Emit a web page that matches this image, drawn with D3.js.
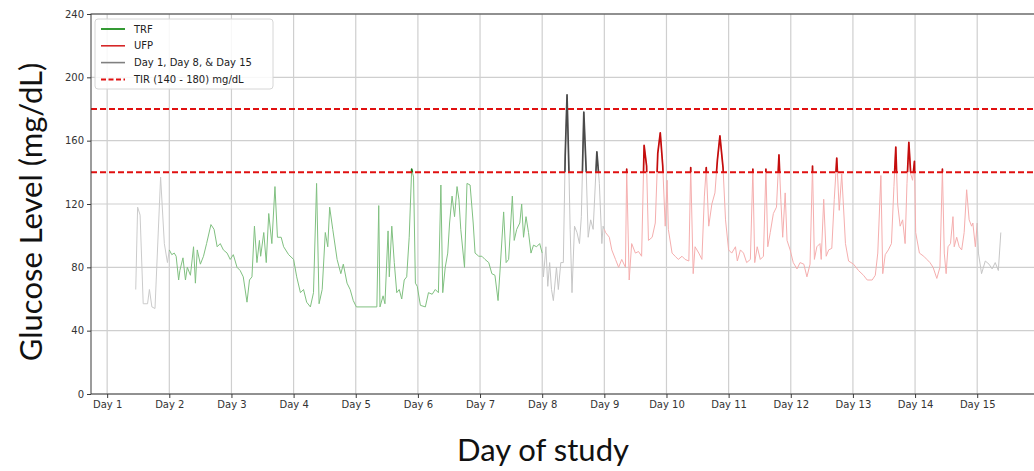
<!DOCTYPE html>
<html>
<head>
<meta charset="utf-8">
<script src="https://cdn.jsdelivr.net/npm/d3@7/dist/d3.min.js"></script>
<style>
	body { margin: 0; background: #fff; }
	svg { display: block; }
</style>
</head>
<body>
<div id="chart-area"></div>
<script>
/*
*    CGM trace - glucose per day of study
*/

// tick values
var dayTicks = [1, 2, 3, 4, 5, 6, 7, 8, 9, 10, 11, 12, 13, 14, 15];
var glucoseTicks = [0, 40, 80, 120, 160, 200, 240];
var tirBounds = [140, 180];

// Day 1 (baseline, grey)
var day1Time = [1.46, 1.49, 1.53, 1.58, 1.65, 1.68, 1.72, 1.77, 1.86, 1.92, 1.97, 2.00];
var day1Glucose = [66, 118, 113, 57, 57, 66, 55, 54, 137, 95, 83, 91];

// TRF (days 2 - 8)
var trfTime = [2.00, 2.04, 2.08, 2.11, 2.15, 2.17, 2.22, 2.26, 2.29, 2.34, 2.39, 2.42, 2.45, 2.50,
	2.55, 2.60, 2.67, 2.72, 2.77, 2.82, 2.87, 2.93, 2.98, 3.03, 3.09, 3.14, 3.19, 3.25, 3.29, 3.33,
	3.37, 3.41, 3.45, 3.47, 3.52, 3.56, 3.60, 3.65, 3.70, 3.74, 3.80, 3.84, 3.92, 4.00, 4.05, 4.11,
	4.16, 4.21, 4.27, 4.32, 4.37, 4.41, 4.46, 4.51, 4.55, 4.58, 4.63, 4.70, 4.76, 4.80, 4.86, 4.91,
	4.96, 5.01, 5.34, 5.37, 5.39, 5.44, 5.47, 5.52, 5.54, 5.58, 5.62, 5.66, 5.70, 5.74, 5.78, 5.82,
	5.86, 5.90, 5.93, 5.96, 5.99, 6.04, 6.12, 6.17, 6.23, 6.28, 6.33, 6.37, 6.40, 6.44, 6.48, 6.51,
	6.55, 6.59, 6.63, 6.66, 6.69, 6.75, 6.79, 6.84, 6.89, 6.92, 6.98, 7.03, 7.08, 7.14, 7.19, 7.24,
	7.29, 7.32, 7.38, 7.42, 7.46, 7.52, 7.55, 7.59, 7.64, 7.67, 7.70, 7.74, 7.78, 7.82, 7.86, 7.91,
	7.96, 8.00];
var trfGlucose = [91, 88, 89, 87, 72, 78, 86, 72, 80, 75, 93, 70, 91, 82,
	87, 95, 107, 104, 93, 95, 91, 89, 85, 88, 80, 78, 74, 58, 72, 74,
	106, 83, 97, 87, 102, 83, 114, 95, 131, 99, 99, 93, 88, 85, 74, 64,
	66, 58, 55, 64, 133, 57, 66, 102, 93, 118, 104, 85, 76, 82, 70, 66,
	59, 55, 55, 119, 55, 62, 57, 103, 74, 106, 83, 64, 66, 60, 72, 74,
	99, 142, 137, 70, 68, 56, 55, 64, 63, 66, 64, 132, 64, 80, 89, 108,
	125, 112, 131, 123, 104, 80, 133, 132, 108, 89, 87, 87, 85, 83, 76, 75,
	59, 77, 115, 83, 85, 125, 97, 104, 108, 120, 99, 112, 102, 89, 94, 93,
	95, 89];

// Day 8 (grey)
var day8Time = [8.00, 8.02, 8.06, 8.09, 8.12, 8.15, 8.18, 8.23, 8.26, 8.30, 8.34, 8.37, 8.40, 8.43,
	8.45, 8.48, 8.52, 8.56, 8.60, 8.63, 8.67, 8.71, 8.74, 8.78, 8.82, 8.88, 8.92, 8.96, 8.98, 9.00];
var day8Glucose = [89, 74, 93, 68, 83, 66, 59, 80, 66, 83, 83, 150, 189, 142,
	104, 64, 106, 102, 95, 112, 178, 139, 99, 110, 104, 153, 133, 95, 106, 104];

// UFP (days 9 - 15)
var ufpTime = [9.00, 9.02, 9.08, 9.12, 9.18, 9.23, 9.28, 9.34, 9.36, 9.40, 9.44, 9.50, 9.55, 9.60,
	9.64, 9.68, 9.71, 9.77, 9.82, 9.86, 9.90, 9.94, 9.98, 10.01, 10.03, 10.09, 10.14, 10.19, 10.25,
	10.30, 10.36, 10.39, 10.43, 10.46, 10.52, 10.57, 10.61, 10.64, 10.68, 10.73, 10.78, 10.82, 10.86,
	10.91, 10.95, 11.00, 11.05, 11.11, 11.14, 11.19, 11.24, 11.29, 11.35, 11.39, 11.42, 11.46, 11.51,
	11.56, 11.60, 11.63, 11.67, 11.72, 11.77, 11.81, 11.84, 11.87, 11.91, 11.94, 11.99, 12.04, 12.10,
	12.15, 12.21, 12.26, 12.31, 12.35, 12.38, 12.42, 12.47, 12.49, 12.53, 12.57, 12.61, 12.66, 12.70,
	12.74, 12.78, 12.82, 12.88, 12.93, 13.01, 13.09, 13.17, 13.23, 13.31, 13.36, 13.40, 13.45, 13.48,
	13.52, 13.57, 13.62, 13.66, 13.69, 13.72, 13.76, 13.80, 13.84, 13.87, 13.90, 13.93, 13.96, 13.99,
	14.01, 14.07, 14.14, 14.19, 14.24, 14.29, 14.35, 14.40, 14.44, 14.47, 14.50, 14.53, 14.57, 14.61,
	14.63, 14.67, 14.71, 14.75, 14.79, 14.83, 14.87, 14.91, 14.93, 14.97, 15.00];
var ufpGlucose = [104, 102, 99, 91, 85, 80, 85, 80, 142, 72, 95, 89, 90, 87,
	157, 144, 97, 99, 108, 152, 165, 144, 106, 135, 104, 89, 87, 85, 87,
	85, 84, 143, 76, 93, 89, 85, 125, 143, 106, 120, 127, 148, 163,
	143, 110, 91, 89, 93, 84, 91, 89, 83, 85, 142, 83, 93, 85,
	87, 142, 93, 102, 114, 118, 151, 123, 99, 127, 97, 91, 83, 79,
	83, 82, 74, 82, 144, 85, 93, 95, 85, 123, 87, 91, 92, 123,
	149, 116, 139, 95, 84, 82, 78, 75, 72, 72, 75, 89, 138, 76,
	88, 91, 95, 131, 156, 120, 106, 110, 95, 133, 159, 139, 135, 147,
	102, 89, 87, 85, 83, 80, 73, 80, 142, 89, 76, 93, 95, 112,
	93, 99, 93, 91, 102, 129, 110, 106, 108, 93, 108];

// Day 15 (grey)
var day15Time = [15.00, 15.02, 15.07, 15.13, 15.19, 15.24, 15.29, 15.34, 15.38];
var day15Glucose = [108, 89, 76, 84, 82, 79, 83, 78, 102];

var margin = {left: 91, right: 0, top: 14, bottom: 77};
var width = 967,
	height = 471 - margin.top - margin.bottom;

var svg = d3.select("#chart-area")
	.append("svg")
		.attr("width", 1034)
		.attr("height", 471);

var g = svg.append("g")
		.attr("transform", "translate(" + margin.left + ", " + margin.top + ")");

//x scale
var x = d3.scaleLinear()
		.domain([0.74, 16.3])
		.range([0, width]);

//y scale
var y = d3.scaleLinear()
		.domain([0, 240])
		.range([height, 0]);

//grid
g.selectAll(".vgrid")
	.data(dayTicks)
	.enter().append("line")
		.attr("class", "vgrid")
		.attr("x1", function(d){ return x(d); })
		.attr("x2", function(d){ return x(d); })
		.attr("y1", 0)
		.attr("y2", height)
		.attr("stroke", "#cfcfcf")
		.attr("stroke-width", 1.2);

g.selectAll(".hgrid")
	.data(glucoseTicks)
	.enter().append("line")
		.attr("class", "hgrid")
		.attr("x1", 0)
		.attr("x2", width)
		.attr("y1", function(d){ return y(d); })
		.attr("y2", function(d){ return y(d); })
		.attr("stroke", "#cfcfcf")
		.attr("stroke-width", 1.2);

//clip paths: whole plot, and the part above the TIR lower bound
var defs = svg.append("defs");
defs.append("clipPath").attr("id", "clip-plot")
	.append("rect")
		.attr("width", width)
		.attr("height", height);
defs.append("clipPath").attr("id", "clip-high")
	.append("rect")
		.attr("width", width)
		.attr("height", y(tirBounds[0]));

var segments = [
	{time: day1Time, value: day1Glucose, light: "#cbcbcb", dark: "#4a4a4a"},
	{time: trfTime, value: trfGlucose, light: "#80c080", dark: "#1d7a1d"},
	{time: day8Time, value: day8Glucose, light: "#c6c6c6", dark: "#4a4a4a"},
	{time: ufpTime, value: ufpGlucose, light: "#f5aeae", dark: "#c40d0d"},
	{time: day15Time, value: day15Glucose, light: "#c6c6c6", dark: "#4a4a4a"}
];

var line = d3.line()
	.x(function(d){ return x(d[0]); })
	.y(function(d){ return y(d[1]); });

var traces = g.append("g").attr("clip-path", "url(#clip-plot)");

segments.forEach(function(s){
	var pts = s.time.map(function(t, i){ return [t, s.value[i]]; });

	traces.append("path")
		.datum(pts)
		.attr("d", line)
		.attr("fill", "none")
		.attr("stroke", s.light)
		.attr("stroke-width", 1)
		.attr("stroke-linejoin", "round");

	traces.append("path")
		.datum(pts)
		.attr("d", line)
		.attr("clip-path", "url(#clip-high)")
		.attr("fill", "none")
		.attr("stroke", s.dark)
		.attr("stroke-width", 1.7)
		.attr("stroke-linejoin", "round");
});

//TIR lines
g.selectAll(".tir")
	.data(tirBounds)
	.enter().append("line")
		.attr("class", "tir")
		.attr("x1", 0)
		.attr("x2", width)
		.attr("y1", function(d){ return y(d); })
		.attr("y2", function(d){ return y(d); })
		.attr("stroke", "#e01010")
		.attr("stroke-width", 2)
		.attr("stroke-dasharray", "6,3");

//frame
g.append("rect")
	.attr("width", width)
	.attr("height", height)
	.attr("fill", "none")
	.attr("stroke", "#3a3a3a")
	.attr("stroke-width", 1);

//x axis
var xAxisCall = d3.axisBottom(x)
		.tickValues(dayTicks)
		.tickSize(4)
		.tickPadding(3)
		.tickFormat(function(d){ return "Day " + d; });
var xAxis = g.append("g")
	.attr("transform", "translate(0," + height + ")")
	.call(xAxisCall);

//y axis
var yAxisCall = d3.axisLeft(y)
		.tickValues(glucoseTicks)
		.tickSize(4)
		.tickPadding(3);
var yAxis = g.append("g")
	.call(yAxisCall);

[xAxis, yAxis].forEach(function(a){
	a.select(".domain").remove();
	a.selectAll("line").attr("stroke", "#3a3a3a");
	a.selectAll("text")
		.attr("fill", "#333")
		.style("font-family", "'DejaVu Sans', sans-serif")
		.style("font-size", "10px");
});

//legend
var legendItems = [
	{label: "TRF", color: "green", dash: null},
	{label: "UFP", color: "#d62728", dash: null},
	{label: "Day 1, Day 8, & Day 15", color: "#808080", dash: null},
	{label: "TIR (140 - 180) mg/dL", color: "#e01010", dash: "5,2.5"}
];

var legend = svg.append("g")
		.attr("transform", "translate(95, 19)");

legend.append("rect")
	.attr("width", 178)
	.attr("height", 70)
	.attr("rx", 3)
	.attr("fill", "#fff")
	.attr("fill-opacity", 0.85)
	.attr("stroke", "#d6d6d6");

legendItems.forEach(function(item, i){
	var row = legend.append("g")
		.attr("transform", "translate(0," + (10 + i * 16.8) + ")");

	row.append("line")
		.attr("x1", 6)
		.attr("x2", 30)
		.attr("stroke", item.color)
		.attr("stroke-width", item.dash ? 2 : 1.6)
		.attr("stroke-dasharray", item.dash);

	row.append("text")
		.attr("x", 39)
		.attr("y", 3.5)
		.attr("fill", "#222")
		.style("font-family", "'DejaVu Sans', sans-serif")
		.style("font-size", "10px")
		.text(item.label);
});

//axis titles
svg.append("text")
	.attr("x", 543)
	.attr("y", 461)
	.attr("text-anchor", "middle")
	.style("font-family", "Lato, sans-serif")
	.style("font-size", "31px")
	.attr("fill", "#111")
	.text("Day of study");

svg.append("text")
	.attr("transform", "translate(42, 212) rotate(-90)")
	.attr("text-anchor", "middle")
	.style("font-family", "Lato, sans-serif")
	.style("font-size", "31px")
	.attr("fill", "#111")
	.text("Glucose Level (mg/dL)");
</script>
</body>
</html>
